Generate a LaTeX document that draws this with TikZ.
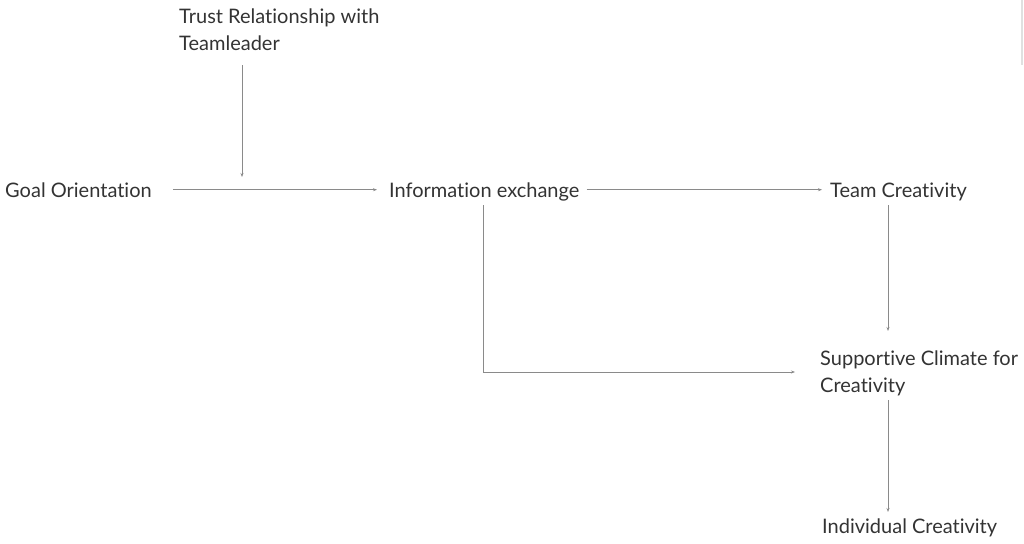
\documentclass[tikz,border=0pt]{standalone}
\usepackage{fontspec}
\setmainfont{Lato}[Ligatures={NoCommon,NoRare}]
\usetikzlibrary{arrows.meta}
\definecolor{txtgray}{HTML}{333333}
\definecolor{arrgray}{HTML}{8A8A8A}
\tikzset{
  lbl/.style={anchor=base west, inner sep=0pt, text=txtgray, align=left,
    font=\fontsize{20}{27}\selectfont},
  arr/.style={->, >={Stealth[length=4pt,width=3pt]}, color=arrgray, line width=0.8pt}
}
\begin{document}
\begin{tikzpicture}[x=1pt,y=-1pt]
\useasboundingbox (0,0) rectangle (1024,543);
\node[lbl] (trust) at (179,50) {Trust Relationship with\\Teamleader};
\node[lbl] (goal) at (5,197) {Goal Orientation};
\node[lbl] (info) at (389,197) {Information exchange};
\node[lbl] (team) at (830,197) {Team Creativity};
\node[lbl] (clim) at (820,392) {Supportive Climate for\\Creativity};
\node[lbl] (indiv) at (822,533) {Individual Creativity};
\coordinate (tl) at (242,177); % end of the trust arrow, just above the line
\draw[arr, shorten <=21pt, shorten >=12pt] (goal.east) -- (goal.east -| info.west);
\draw[arr] (tl |- 0,65) -- (tl);
\draw[arr, shorten <=7pt, shorten >=8pt] (info.east |- goal.east) -- (team.west |- goal.east);
\draw[arr] (888,205) -- (888,331);
\draw[arr] (483,205) |- (795,372);
\draw[arr] (888,400) -- (888,512);
\draw[color=black!12, line width=1.5pt] (1022,0) -- (1022,65); % scrollbar edge
\end{tikzpicture}
\end{document}
